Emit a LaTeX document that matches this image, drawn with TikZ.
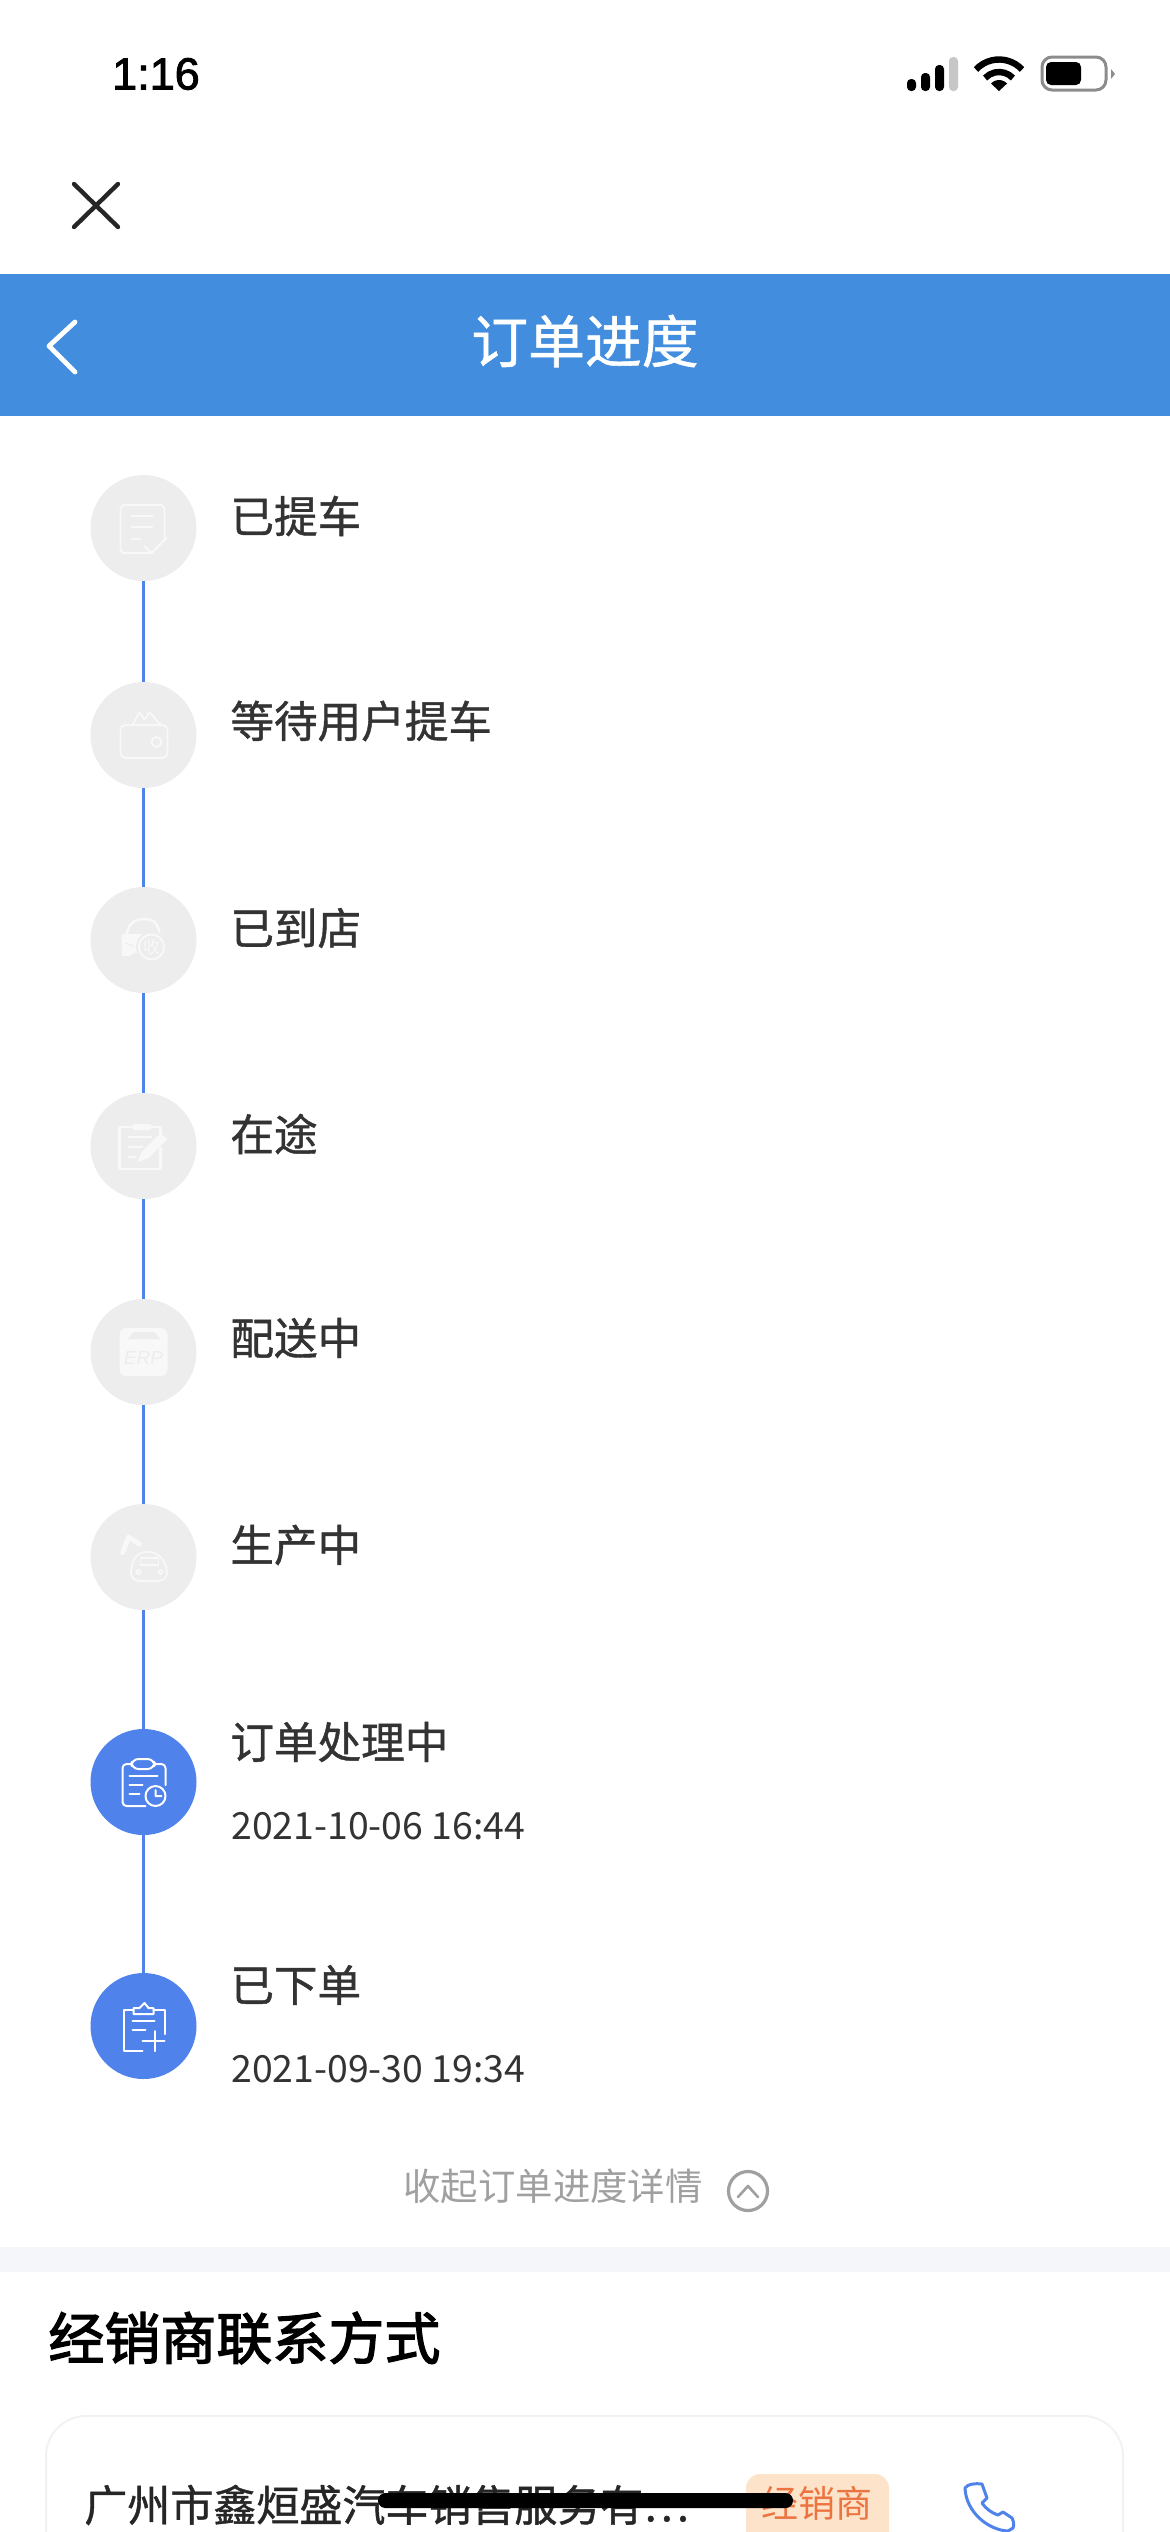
\documentclass[tikz,border=0pt]{standalone}
\usepackage{fontspec}
\setmainfont{Noto Sans CJK SC}
\newfontfamily\medfont[FakeBold=1]{Noto Sans CJK SC}
\newfontfamily\headfont[FakeBold=2.4]{Noto Sans CJK SC}
\newfontfamily\latinfont[FakeBold=2]{Liberation Sans}
\newfontfamily\erpfont{Liberation Sans}
\definecolor{barblue}{HTML}{428DDE}
\definecolor{stageblue}{HTML}{4F82EA}
\definecolor{stagegrey}{HTML}{EDEDED}
\definecolor{iconpale}{HTML}{F8F8F8}
\definecolor{labelgrey}{HTML}{333333}
\definecolor{hintgrey}{HTML}{A0A0A0}
\definecolor{bandgrey}{HTML}{F5F6FA}
\definecolor{cardline}{HTML}{F2F2F2}
\definecolor{tagfill}{HTML}{FCE3CA}
\definecolor{tagtext}{HTML}{EC7440}

\begin{document}
\begin{tikzpicture}[x=.5pt,y=-.5pt]
  \tikzset{stage/.style = {shape=circle,fill=stagegrey,minimum size=53pt,inner sep=0pt}}
  \tikzset{stagedone/.style = {stage,fill=stageblue}}
  \tikzset{edge/.style = {stageblue,line width=1.9pt}}
  \tikzset{steplabel/.style = {anchor=west,inner sep=0pt,text=labelgrey,font=\medfont\fontsize{21.8}{26}\selectfont}}
  \tikzset{datelabel/.style = {anchor=west,inner sep=0pt,text=labelgrey,font=\fontsize{18.7}{22}\selectfont}}
  \tikzset{paleicon/.style = {draw=iconpale,line width=.9pt,line cap=round,line join=round}}
  \tikzset{whiteicon/.style = {draw=white,line width=1pt,line cap=round,line join=round}}

  \useasboundingbox (0,0) rectangle (1170,2532);
  \clip (0,0) rectangle (1170,2532);
  \fill[white] (0,0) rectangle (1170,2532);

  % status bar
  \node[anchor=center,inner sep=0pt,font=\latinfont\fontsize{22.5}{26}\selectfont] (clock) at (156,74) {1:16};
  \fill[rounded corners=2pt] (907,79) rectangle (916,91);
  \fill[rounded corners=2pt] (921,73) rectangle (930,91);
  \fill[rounded corners=2pt] (935,65) rectangle (944,91);
  \fill[black!22,rounded corners=2pt] (949,57) rectangle (958,91);
  \draw[line width=3.2pt] (999,91) ++(-43:31.5) arc[start angle=-43,end angle=-137,radius=31.5];
  \draw[line width=3.2pt] (999,91) ++(-43:19) arc[start angle=-43,end angle=-137,radius=19];
  \fill (999,91) -- (991,83.5) arc[start angle=-137,end angle=-43,radius=11] -- cycle;
  \draw[black!45,line width=1.5pt,rounded corners=5pt] (1042,57) rectangle (1106,90);
  \fill[rounded corners=2.5pt] (1046,62) rectangle (1081,85);
  \fill[black!45] (1111,69) -- (1115,74) -- (1111,79) -- cycle;

  % close and title bar
  \draw[black!85,line width=2.2pt,line cap=round] (74,184) -- (118,227) (118,184) -- (74,227);
  \fill[barblue] (0,274) rectangle (1170,416);
  \draw[white,line width=2.4pt,line cap=round,line join=round] (75,322) -- (49,346) -- (75,372);
  \node[inner sep=0pt,text=white,font=\medfont\fontsize{28.4}{32}\selectfont] (title) at (585,341) {订单进度};

  % stages
  \foreach \id/\ypos/\kind in {a/528/stage, b/735/stage, c/940/stage, d/1146/stage, e/1352/stage, f/1557/stage, g/1782/stagedone, h/2026/stagedone}
    \node[\kind] (\id) at (143.5,\ypos) {};
  \foreach \from/\to in {a/b, b/c, c/d, d/e, e/f, f/g, g/h}
    \draw[edge] (\from) -- (\to);

  \foreach \id/\ypos/\txt in {a/516/已提车, b/721/等待用户提车, c/928/已到店, d/1134/在途, e/1338/配送中, f/1545/生产中, g/1742/订单处理中, h/1985/已下单}
    \node[steplabel] (label\id) at (230,\ypos) {\txt};
  \node[datelabel] (dateg) at (231,1826) {2021-10-06 16:44};
  \node[datelabel] (dateh) at (231,2069) {2021-09-30 19:34};

  % icon a
  \begin{scope}[shift={(a)}]
    \draw[paleicon] (9,25) -- (-20,25) -- (-23,22) -- (-23,-20) -- (-20,-23) -- (18,-23) -- (21,-20) -- (21,12);
    \draw[paleicon] (-12,-12) -- (9,-12) (-12,-1) -- (9,-1) (-12,11) -- (-3,11);
    \draw[paleicon] (1,18) -- (8,25) -- (23,10);
  \end{scope}
  % icon b
  \begin{scope}[shift={(b)}]
    \draw[paleicon,rounded corners=2.5pt] (-23,-10) rectangle (24,23);
    \draw[paleicon] (13,7) circle (5);
    \draw[paleicon] (-11,-10) -- (-4,-23) -- (1,-15) (1,-15) -- (6,-23) -- (17,-10);
  \end{scope}
  % icon c
  \begin{scope}[shift={(c)}]
    \draw[paleicon,line width=1.3pt] (-17,-6) .. controls (-14,-20) and (-5,-21) .. (2,-21) .. controls (8,-21) and (13,-19) .. (16,-8);
    \fill[iconpale,rounded corners=1pt] (-22,-6) -- (4,-6) -- (4,13) -- (-12,13) -- (-12,16) -- (-22,16) -- cycle;
    \draw[stagegrey,line width=.7pt] (-18,3) -- (-10,6);
    \fill[stagegrey] (8,7) circle (15.5);
    \draw[iconpale,line width=1pt] (8,7) circle (12.5);
    \node[inner sep=0pt,text=iconpale,font=\fontsize{8.5}{9}\selectfont] (cmark) at (8,7) {收};
  \end{scope}
  % icon d
  \begin{scope}[shift={(d)}]
    \draw[paleicon,line width=1.2pt] (-11,-19) -- (-24,-19) -- (-24,23) -- (17,23) -- (17,2);
    \draw[paleicon,line width=1.2pt] (8,-19) -- (17,-19) -- (17,-11);
    \fill[iconpale,rounded corners=1pt] (-11,-22) rectangle (8,-16);
    \draw[paleicon] (-15,-9) -- (8,-9) (-15,1) -- (-1,1) (-15,11) -- (-7,11);
    \fill[iconpale] (-6,16) -- (-2,6) -- (17,-13) -- (24,-7) -- (5,12) -- cycle;
  \end{scope}
  % icon e
  \begin{scope}[shift={(e)}]
    \fill[iconpale,rounded corners=3.5pt] (-24,-24) rectangle (24,24);
    \fill[stagegrey] (-16,-13) -- (-10,-20) -- (11,-20) -- (17,-13) -- cycle;
    \node[inner sep=0pt,text=stagegrey,font=\erpfont\itshape\fontsize{9.5}{11}\selectfont] (boxmark) at (0,6) {ERP};
  \end{scope}
  % icon f
  \begin{scope}[shift={(f)}]
    \draw[paleicon,line width=2.4pt] (-21,-4) -- (-15,-20) (-15,-20) -- (-4,-13);
    \draw[paleicon,rounded corners=4pt] (-12,24) -- (-13,10) -- (-6,-5) -- (14,-5) -- (24,10) -- (23,24) -- cycle;
    \draw[paleicon] (-3,1) rectangle (15,8);
    \draw[paleicon] (-5,15) circle (2) (17,15) circle (2);
  \end{scope}
  % icon g
  \begin{scope}[shift={(g)}]
    \draw[whiteicon,rounded corners=2pt] (2,24) -- (-21,24) -- (-21,-18) -- (-12,-18);
    \draw[whiteicon,rounded corners=2pt] (11,-18) -- (22,-18) -- (22,3);
    \draw[whiteicon,rounded corners=3.5pt] (-12,-23) rectangle (11,-13);
    \draw[whiteicon] (-14,-6) -- (14,-6) (-14,3) -- (-1,3) (-14,12) -- (-4,12);
    \draw[whiteicon] (12,14) circle (10) (12,8) -- (12,14) -- (18,14);
  \end{scope}
  % icon h
  \begin{scope}[shift={(h)}]
    \draw[whiteicon] (-10,-16) -- (-20,-16) -- (-20,25) -- (-1,25);
    \draw[whiteicon] (10,-16) -- (21,-16) -- (21,8);
    \draw[whiteicon] (-10,-12) -- (-10,-18) -- (-4,-18) -- (1,-23) -- (5,-18) -- (10,-18) -- (10,-12) -- cycle;
    \draw[whiteicon] (-11,-5) -- (11,-5) (-11,4) -- (2,4);
    \draw[whiteicon] (-1,15) -- (21,15) (11,5) -- (11,25);
  \end{scope}

  % collapse row
  \node[anchor=west,inner sep=0pt,text=hintgrey,font=\fontsize{18.7}{22}\selectfont] (hint) at (403,2186) {收起订单进度详情};
  \node[shape=circle,draw=hintgrey,line width=1.6pt,minimum size=19.5pt,inner sep=0pt] (foldmark) at (748,2191) {};
  \draw[hintgrey,line width=1.3pt,line cap=round,line join=round] (738,2197) -- (748,2186) -- (758,2197);
  \fill[bandgrey] (0,2247) rectangle (1170,2272);

  % dealer card
  \node[anchor=west,inner sep=0pt,font=\headfont\fontsize{28}{32}\selectfont] (heading) at (48,2338) {经销商联系方式};
  \draw[cardline,line width=1pt,rounded corners=20pt] (46,2416) rectangle (1123,2600);
  \node[anchor=west,inner sep=0pt,text=black!85,font=\medfont\fontsize{21.5}{26}\selectfont] (dealer) at (84,2505) {广州市鑫烜盛汽车销售服务有…};
  \fill[tagfill,rounded corners=7pt] (746,2474) rectangle (889,2560);
  \node[inner sep=0pt,text=tagtext,font=\fontsize{18.5}{22}\selectfont] (tag) at (817,2503) {经销商};
  \draw[stageblue,line width=1.5pt,line join=round] (965,2488) .. controls (967,2484) and (976,2483) .. (982,2484) -- (987,2498) -- (982,2503)
    .. controls (986,2509) and (992,2513) .. (998,2515) -- (1003,2512) -- (1012,2518) .. controls (1014,2522) and (1014,2526) .. (1013,2528) -- (1008,2531)
    .. controls (988,2530) and (966,2512) .. (965,2488) -- cycle;
  \fill[rounded corners=3.7pt] (378,2493) rectangle (793,2508);
\end{tikzpicture}
\end{document}
